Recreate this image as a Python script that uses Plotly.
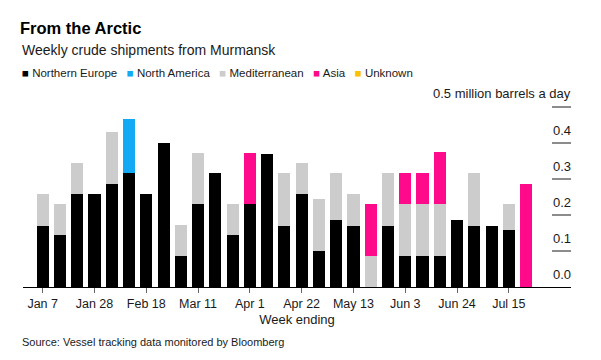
import plotly.graph_objects as go

weeks = ["Jan 7", "Jan 14", "Jan 21", "Jan 28", "Feb 4", "Feb 11", "Feb 18", "Feb 25",
         "Mar 4", "Mar 11", "Mar 18", "Mar 25", "Apr 1", "Apr 8", "Apr 15", "Apr 22",
         "Apr 29", "May 6", "May 13", "May 20", "May 27", "Jun 3", "Jun 10", "Jun 17",
         "Jun 24", "Jul 1", "Jul 8", "Jul 15", "Jul 22"]

northern_europe = [0.17, 0.143, 0.257, 0.257, 0.285, 0.316, 0.257, 0.40, 0.086, 0.23,
                   0.316, 0.143, 0.23, 0.37, 0.17, 0.257, 0.10, 0.185, 0.17, 0.0,
                   0.17, 0.086, 0.086, 0.086, 0.186, 0.17, 0.17, 0.157, 0.0]
north_america = [0, 0, 0, 0, 0, 0.15, 0, 0, 0, 0,
                 0, 0, 0, 0, 0, 0, 0, 0, 0, 0,
                 0, 0, 0, 0, 0, 0, 0, 0, 0]
mediterranean = [0.087, 0.087, 0.087, 0, 0.145, 0, 0, 0, 0.087, 0.143,
                 0, 0.087, 0, 0, 0.146, 0.087, 0.144, 0.131, 0.087, 0.086,
                 0.146, 0.144, 0.144, 0.144, 0, 0.146, 0, 0.073, 0]
asia = [0, 0, 0, 0, 0, 0, 0, 0, 0, 0,
        0, 0, 0.143, 0, 0, 0, 0, 0, 0, 0.144,
        0, 0.086, 0.086, 0.144, 0, 0, 0, 0, 0.285]
unknown = [0] * 29

tick_labels = ["Jan 7", "Jan 28", "Feb 18", "Mar 11", "Apr 1", "Apr 22",
               "May 13", "Jun 3", "Jun 24", "Jul 15"]
y_ticks = [0.0, 0.1, 0.2, 0.3, 0.4, 0.5]
y_tick_text = ["0.0", "0.1", "0.2", "0.3", "0.4", "0.5 million barrels a day"]

series_names = ["Northern Europe", "North America", "Mediterranean", "Asia", "Unknown"]
series_values = [northern_europe, north_america, mediterranean, asia, unknown]
series_colors = ["#000000", "#14a9f5", "#cccccc", "#ff0a8a", "#fcc200"]

FONT = "Liberation Sans, Arial, sans-serif"
TXT = "#1a1a1a"
x_idx = list(range(len(weeks)))

# page offset (browser body margin) compensation: figure coords = screen - 8
W, H = 601, 360
plot_l, plot_r = 15, 563
plot_t, base = 77, 278.7
y_top = 0.5603
x_lo, x_hi = -1.14, 30.6
plot_h = base - plot_t
plot_w = plot_r - plot_l
TICK_PX = 19

fig = go.Figure()
for name, vals, color in zip(series_names, series_values, series_colors):
    fig.add_trace(go.Bar(x=x_idx, y=vals, name=name, showlegend=False,
                         marker=dict(color=color, line=dict(width=0)),
                         customdata=weeks,
                         hovertemplate="%{customdata}: %{y}<extra>" + name + "</extra>"))

# short value-axis tick marks at the right edge (axis decoration)
tick_units = TICK_PX * (x_hi - x_lo) / plot_w
tx, ty = [], []
for v in y_ticks[1:]:
    tx += [x_hi - tick_units, x_hi, None]
    ty += [v, v, None]
fig.add_trace(go.Scatter(x=tx, y=ty, mode="lines", showlegend=False, hoverinfo="skip",
                         line=dict(color="#8c8c8c", width=1.5)))

tickvals = [weeks.index(t) for t in tick_labels]

legend_text = "&nbsp;&nbsp;&nbsp;".join(
    f'<span style="color:{c}">■</span> {n}' for n, c in zip(series_names, series_colors))

# the long top label is drawn as an annotation so it does not hide x tick labels
axis_ticktext = y_tick_text[:-1] + [""]

fig.update_layout(
    width=W, height=H,
    barmode="stack", bargap=0.3,
    plot_bgcolor="white", paper_bgcolor="white",
    margin=dict(l=plot_l, r=W - plot_r, t=plot_t, b=H - base, autoexpand=False),
    font=dict(family=FONT, size=12.5, color=TXT),
    title=dict(text="<b>From the Arctic</b>", x=12 / W, xref="container", xanchor="left",
               y=1 - 20 / H, yref="container", yanchor="middle",
               font=dict(size=16.5, color="#000000")),
    showlegend=False,
    xaxis=dict(range=[x_lo, x_hi], tickvals=tickvals, ticktext=tick_labels,
               ticks="outside", ticklen=5, tickcolor="#666666", showgrid=False,
               showline=True, linecolor="#000000", linewidth=1, zeroline=False,
               tickfont=dict(size=12.5, color=TXT),
               title=dict(text="Week ending", standoff=4, font=dict(size=13, color=TXT))),
    yaxis=dict(range=[0, y_top], side="right",
               tickvals=y_ticks, ticktext=axis_ticktext,
               ticks="inside", ticklen=19, tickcolor="#8c8c8c", tickwidth=1.5,
               ticklabelposition="inside top", ticklabelstandoff=-3, ticklabelshift=-3,
               ticklabeloverflow="allow",
               showgrid=False, showline=False, zeroline=False,
               tickfont=dict(size=13, color=TXT)),
    annotations=[
        dict(text="Weekly crude shipments from Murmansk", xref="paper", yref="paper",
             x=(12 - plot_l) / plot_w, y=1 + (plot_t - 42) / plot_h, xanchor="left", yanchor="middle",
             showarrow=False, font=dict(size=14, color=TXT)),
        dict(text=legend_text, xref="paper", yref="paper",
             x=(12 - plot_l) / plot_w, y=1 + (plot_t - 65) / plot_h, xanchor="left", yanchor="middle",
             showarrow=False, font=dict(size=11.5, color=TXT)),
        dict(text=y_tick_text[-1], xref="paper", yref="y",
             x=1, y=y_ticks[-1], xanchor="right", yanchor="bottom", xshift=2, yshift=4,
             showarrow=False, font=dict(size=13, color=TXT)),
        dict(text="Source: Vessel tracking data monitored by Bloomberg", xref="paper", yref="paper",
             x=(12 - plot_l) / plot_w, y=-(333.5 - base) / plot_h, xanchor="left", yanchor="middle",
             showarrow=False, font=dict(size=11, color=TXT)),
    ],
)

fig.write_html("out.html")
